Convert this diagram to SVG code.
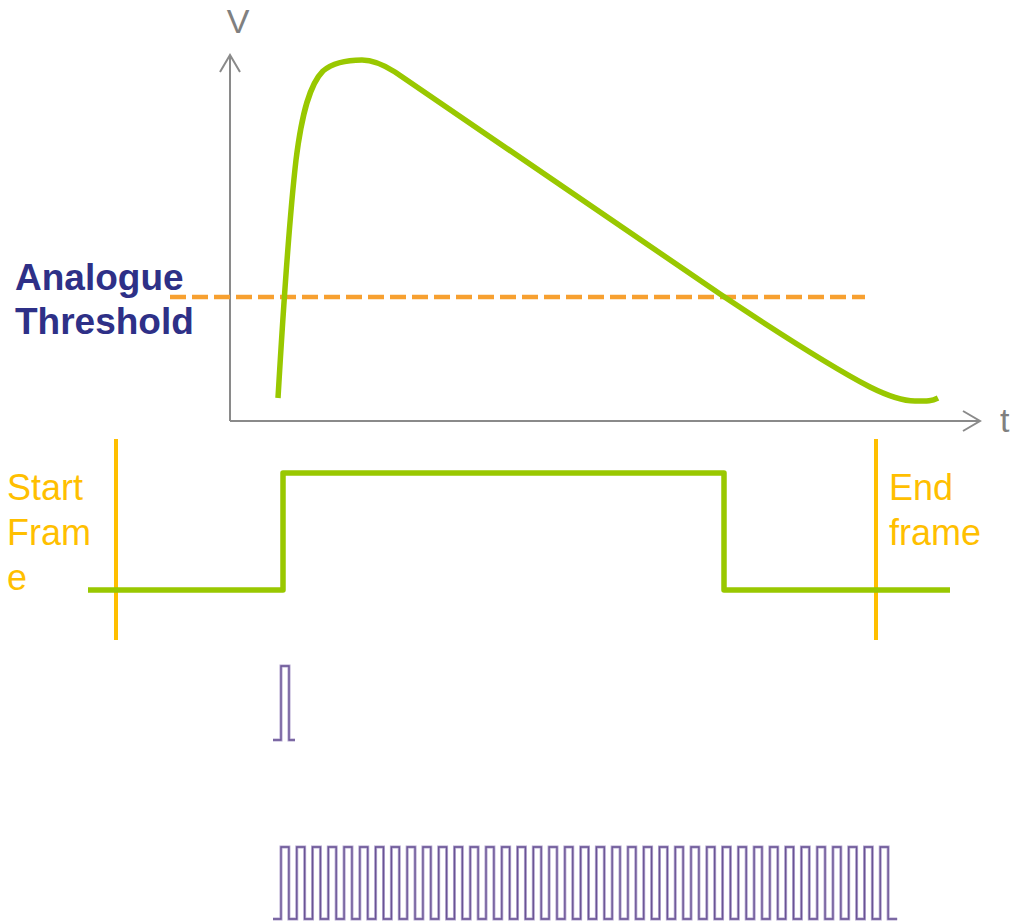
<svg xmlns="http://www.w3.org/2000/svg" width="1010" height="924" viewBox="0 0 1010 924">
<style>
.axis{fill:none;stroke:#8a8a8a;stroke-width:2}
.axlbl{font-family:"Liberation Sans",Arial,sans-serif;font-size:34px;fill:#808080}
.green{fill:none;stroke:#99c800;stroke-width:5.5;stroke-linejoin:round}
.frame{stroke:#ffbf00;stroke-width:4}
.ftxt{font-family:"Liberation Sans",Arial,sans-serif;font-size:36px;fill:#ffbf00}
.thr{font-family:"Liberation Sans",Arial,sans-serif;font-size:37px;font-weight:bold;fill:#2e3087}
.pout{fill:none;stroke:#b3a6d0;stroke-width:3}
.pin{fill:none;stroke:#6a5494;stroke-width:1.3}
</style>
<defs>
<path id="pulse1" d="M273,740 H281 V666 H289 V740 H295"/>
<path id="train" d="M273,919 H281
v-72 h7.885 v72 h7.885 v-72 h7.885 v72 h7.885 v-72 h7.885 v72 h7.885 v-72 h7.885 v72 h7.885 v-72 h7.885 v72 h7.885
v-72 h7.885 v72 h7.885 v-72 h7.885 v72 h7.885 v-72 h7.885 v72 h7.885 v-72 h7.885 v72 h7.885 v-72 h7.885 v72 h7.885
v-72 h7.885 v72 h7.885 v-72 h7.885 v72 h7.885 v-72 h7.885 v72 h7.885 v-72 h7.885 v72 h7.885 v-72 h7.885 v72 h7.885
v-72 h7.885 v72 h7.885 v-72 h7.885 v72 h7.885 v-72 h7.885 v72 h7.885 v-72 h7.885 v72 h7.885 v-72 h7.885 v72 h7.885
v-72 h7.885 v72 h7.885 v-72 h7.885 v72 h7.885 v-72 h7.885 v72 h7.885 v-72 h7.885 v72 h7.885 v-72 h7.885 v72 h7.885
v-72 h7.885 v72 h7.885 v-72 h7.885 v72 h7.885 v-72 h7.885 v72 h7.885 v-72 h7.885 v72 h7.885 v-72 h7.885 v72 h7.885
v-72 h7.885 v72 h7.885 v-72 h7.885 v72 h7.885 v-72 h7.885 v72 h7.885 v-72 h7.885 v72 h7.885 v-72 h7.885 v72 h7.885
v-72 h7.885 v72 h7.885 v-72 h7.885 v72 h7.885 v-72 h7.885 v72 h7.885 v-72 h7.885 v72 h9"/>
</defs>
<rect width="1010" height="924" fill="#fff"/>
<g id="axes">
<path class="axis" d="M230,421 V55 M220,72 L230,55 L240,72"/>
<path class="axis" d="M230,421 H980 M963,411 L980,421 L963,431"/>
<text class="axlbl" x="238" y="33" text-anchor="middle">V</text>
<text class="axlbl" x="1000" y="432">t</text>
</g>
<g id="threshold">
<line x1="170" y1="297" x2="865" y2="297" stroke="#f7a030" stroke-width="4.5" stroke-dasharray="16 6"/>
<text class="thr" x="15" y="290">Analogue</text>
<text class="thr" x="15" y="334">Threshold</text>
</g>
<g id="analogue-curve">
<path class="green" d="M278,398 C282,330 288,230 296,160 C302,112 310,84 323,71 C335,61 350,60 362,60 C374,60 384,65 395,72 L720,294 C780,334 830,366 870,387 C890,397 903,401 915,401 C925,401 930,402 938,398"/>
</g>
<g id="start-frame">
<line class="frame" x1="116" y1="439" x2="116" y2="640"/>
<text class="ftxt" x="7" y="500">Start</text>
<text class="ftxt" x="7" y="545">Fram</text>
<text class="ftxt" x="7" y="590">e</text>
</g>
<g id="end-frame">
<line class="frame" x1="876" y1="439" x2="876" y2="640"/>
<text class="ftxt" x="889" y="500">End</text>
<text class="ftxt" x="889" y="545">frame</text>
</g>
<g id="digital-gate">
<path class="green" d="M88,590 H283 V473 H724 V590 H950"/>
</g>
<g id="single-pulse">
<use href="#pulse1" class="pout"/>
<use href="#pulse1" class="pin"/>
</g>
<g id="pulse-train">
<use href="#train" class="pout"/>
<use href="#train" class="pin"/>
</g>
</svg>
